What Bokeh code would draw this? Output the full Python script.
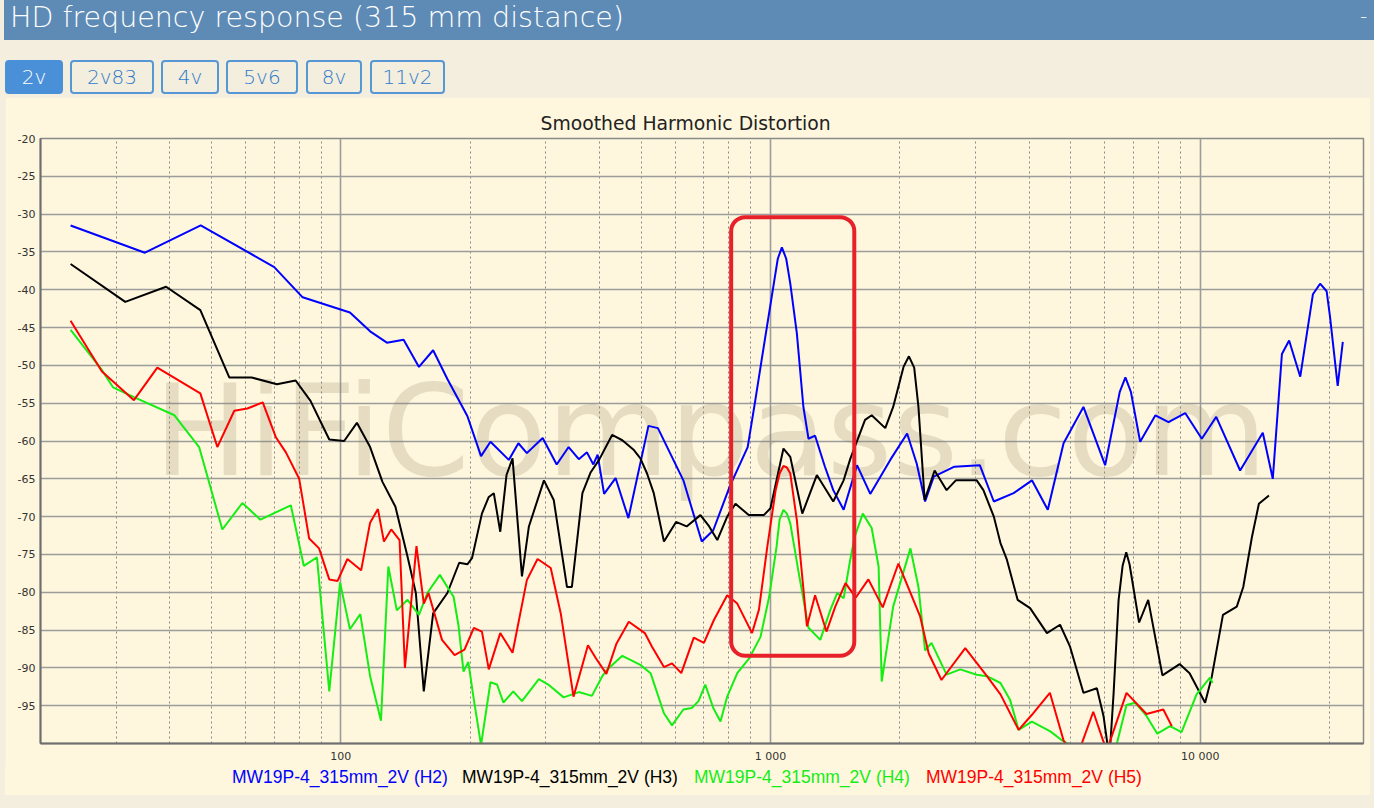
from bokeh.plotting import figure
from bokeh.models import Range1d, FixedTicker, BoxAnnotation, Label, Div
from bokeh.layouts import column
from bokeh.embed import file_html
from bokeh.resources import INLINE

# ---------------- data ----------------
h2_f = [23.5, 35, 47.2, 70, 81.5, 105, 117, 128, 140, 152, 164, 177, 197, 212, 223, 246, 259, 271, 295,
        318, 339, 358, 374, 387, 396, 410, 436, 467, 520, 547, 627, 692, 736, 804, 885, 922, 953, 1018, 1040,
        1063, 1088, 1112, 1152, 1193, 1226, 1270, 1339, 1400, 1480, 1590, 1707, 1900, 2080, 2190, 2290, 2400,
        2680, 3070, 3310, 3680, 4060, 4420, 4810, 5350, 6010, 6500, 6700, 6900, 7250, 7870, 8440, 9230,
        10090, 10900, 12390, 13990, 14760, 15500, 16110, 17100, 18300, 19020, 19700, 20060, 20900, 21480]
h2_db = [-31.5, -35.1, -31.5, -37.0, -41.0, -43.0, -45.5, -47.0, -46.6, -50.2, -48.0, -51.8, -56.7, -62.0,
         -60.1, -62.5, -60.3, -61.6, -59.6, -63.1, -60.8, -62.4, -61.5, -63.1, -61.8, -67.0, -64.9, -70.2,
         -58.0, -58.3, -65.2, -73.3, -71.8, -66.0, -60.8, -54.6, -49.4, -39.2, -35.9, -34.4, -35.9, -39.2,
         -45.8, -55.5, -59.7, -59.3, -63.4, -66.5, -69.1, -63.2, -67.0, -62.5, -59.0, -63.0, -68.0, -64.7,
         -63.4, -63.2, -68.0, -66.9, -65.2, -69.1, -60.3, -55.5, -63.2, -53.5, -51.6, -53.5, -60.1, -56.6,
         -57.5, -56.3, -59.7, -56.8, -63.9, -58.9, -65.0, -48.5, -46.7, -51.5, -40.6, -39.2, -40.2, -43.6,
         -52.7, -46.9]

h3_f = [23.5, 31.5, 39.2, 47.1, 55, 62, 71, 78.5, 85, 94, 101.8, 109, 117, 125, 134, 143, 149.5, 156, 164,
        177, 188.6, 197, 202, 213, 221, 227, 235, 243, 251, 264, 274, 297, 313, 336, 345, 365, 381, 399,
        428, 452, 481, 498, 516, 535, 565, 603, 638, 687, 720, 752, 793, 829, 890, 965, 1000, 1072, 1112,
        1186, 1282, 1400, 1480, 1535, 1660, 1720, 1850, 1930, 2040, 2100, 2160, 2210, 2285, 2410, 2570,
        2700, 3020, 3130, 3310, 3430, 3550, 3760, 4020, 4400, 4720, 4980, 5350, 5750, 5960, 6150, 6290,
        6460, 6600, 6730, 6850, 7210, 7570, 8170, 8960, 9450, 10270, 10650, 11300, 12170, 12600, 13200,
        13700, 14460]
h3_db = [-36.6, -41.6, -39.6, -42.7, -51.6, -51.6, -52.5, -52.0, -54.7, -59.8, -60.0, -57.6, -60.8, -65.4,
         -68.7, -75.3, -80.1, -93.1, -82.8, -80.1, -76.1, -76.3, -75.5, -69.6, -67.4, -66.9, -72.0, -64.5,
         -62.3, -77.9, -71.3, -65.2, -67.8, -79.3, -79.3, -66.9, -64.2, -62.5, -59.2, -59.9, -61.2, -62.3,
         -64.3, -66.9, -73.3, -70.7, -71.3, -69.8, -71.3, -73.1, -70.0, -68.3, -69.8, -69.8, -68.9, -61.0,
         -62.1, -69.6, -64.5, -68.0, -65.2, -62.3, -57.2, -56.6, -58.3, -55.5, -50.2, -48.8, -50.3, -55.5,
         -67.8, -63.9, -66.5, -65.2, -65.2, -66.5, -70.0, -73.5, -75.7, -81.0, -82.1, -85.4, -84.3, -87.2,
         -93.3, -92.7, -96.4, -102.0, -93.3, -81.0, -76.5, -74.7, -76.3, -84.0, -81.0, -91.0, -89.5, -90.7,
         -94.6, -91.1, -83.0, -81.9, -79.3, -72.7, -68.3, -67.2]

h4_f = [23.5, 27.7, 29.5, 33, 41, 46.8, 53, 59, 65, 76.5, 82, 88, 94, 99.6, 105, 111, 117, 124, 129, 135,
        143, 152, 159, 170, 177, 183, 188, 193, 198, 204, 212, 223, 231, 239, 252, 264, 289, 304, 330, 358,
        384, 406, 417, 452, 498, 526, 565, 590, 627, 656, 680, 705, 736, 765, 793, 837, 893, 948, 993,
        1033, 1050, 1072, 1092, 1112, 1164, 1226, 1306, 1379, 1430, 1480, 1530, 1570, 1640, 1720, 1785,
        1815, 1930, 2117, 2210, 2290, 2370, 2570, 2765, 3020, 3190, 3430, 3610, 3780, 4060, 4480, 4800,
        5300, 6000, 6400, 6740, 7050, 7470, 7950, 8510, 9050, 9810, 10540, 10690]
h4_db = [-45.3, -50.5, -52.9, -54.2, -56.6, -60.8, -71.7, -68.2, -70.4, -68.5, -76.5, -75.4, -93.1, -78.7,
         -84.9, -82.9, -91.1, -97.0, -76.6, -82.4, -81.0, -83.0, -80.1, -77.7, -79.3, -80.6, -84.5, -90.5,
         -89.2, -94.2, -100.2, -91.9, -92.2, -94.6, -93.1, -94.4, -91.5, -92.2, -93.9, -93.2, -93.7, -91.1,
         -90.2, -88.4, -89.6, -90.7, -96.0, -97.6, -95.5, -95.3, -94.4, -92.2, -95.3, -97.1, -93.8, -90.7,
         -88.7, -85.9, -80.6, -74.0, -70.4, -69.1, -69.6, -70.9, -77.5, -84.7, -86.3, -82.3, -80.1, -80.8,
         -76.0, -72.7, -69.6, -71.5, -76.6, -91.8, -81.9, -74.2, -79.3, -87.7, -86.7, -90.9, -90.2, -90.9,
         -91.1, -92.0, -94.2, -98.2, -97.1, -98.4, -99.7, -101.0, -101.0, -100.0, -94.9, -94.6, -96.2,
         -98.7, -97.7, -98.5, -93.5, -91.3, -92.0]

h5_f = [23.5, 27.8, 33, 37.4, 47.1, 51.6, 56.5, 60.6, 65.8, 70.6, 74.5, 80, 84.4, 89, 94, 98.3, 103.6,
        111.5, 117, 122, 126, 131, 137, 141, 150, 156, 160, 172, 184, 194, 204, 213, 221, 235, 251, 271,
        287, 308, 325, 348, 376, 392, 415, 438, 468, 510, 530, 565, 590, 620, 663, 700, 738, 793, 837, 906,
        940, 983, 1028, 1050, 1072, 1092, 1112, 1152, 1216, 1270, 1350, 1415, 1495, 1580, 1690, 1825, 1985,
        2230, 2335, 2500, 2840, 3190, 3430, 3780, 4060, 4470, 4810, 5150, 5640, 6060, 6740, 7500, 8210, 8590]
h5_db = [-44.1, -50.8, -54.6, -50.3, -53.7, -60.8, -56.0, -55.7, -54.9, -59.5, -61.5, -65.0, -72.9, -74.2,
         -78.3, -78.5, -75.6, -77.1, -70.8, -69.0, -73.3, -71.7, -73.1, -90.0, -73.9, -81.5, -80.1, -86.3,
         -88.3, -87.6, -84.7, -85.2, -90.2, -85.4, -88.0, -78.4, -75.6, -76.8, -82.8, -93.8, -87.0, -88.7,
         -90.8, -86.8, -83.9, -85.4, -87.2, -89.9, -89.4, -90.7, -86.0, -86.7, -83.7, -80.4, -81.5, -85.4,
         -82.3, -74.0, -66.5, -64.3, -63.3, -63.5, -64.3, -70.5, -84.5, -80.4, -85.2, -81.9, -78.8, -80.7,
         -78.3, -82.0, -76.2, -83.2, -88.1, -91.6, -87.4, -91.1, -93.5, -98.2, -96.2, -93.3, -99.6, -102.0,
         -95.8, -101.0, -93.3, -96.1, -95.5, -97.7]

series_names = ["MW19P-4_315mm_2V (H2)", "MW19P-4_315mm_2V (H3)",
                "MW19P-4_315mm_2V (H4)", "MW19P-4_315mm_2V (H5)"]
series_colors = ["#0000FF", "#000000", "#14EE14", "#FF0000"]

y_ticks = [-95, -90, -85, -80, -75, -70, -65, -60, -55, -50, -45, -40, -35, -30, -25, -20]
y_labels = {t: f"{t}" for t in y_ticks}
x_major = [100, 1000, 10000]
x_minor = [30, 40, 50, 60, 70, 80, 90, 200, 300, 400, 500, 600, 700, 800, 900,
           2000, 3000, 4000, 5000, 6000, 7000, 8000, 9000, 20000]
x_labels = {100: "100", 1000: "1 000", 10000: "10 000"}

# highlighted region (Hz, dB)
box_f = [810, 1567]
box_db = [-88.4, -30.4]

page_title = "HD frequency response (315 mm distance)"
buttons = ["2v", "2v83", "4v", "5v6", "8v", "11v2"]
chart_title = "Smoothed Harmonic Distortion"
watermark = "HiFiCompass.com"

# ---------------- styling ----------------
PAGE = "#F3EEDD"
PANEL = "#FEF7DD"
HEADER = "#5E8BB6"
BTN = "#4A90D9"
BTN_TXT = "#2F7BCB"
BTN_LINE = "#5797D6"

p = figure(width=1365, height=669, x_axis_type="log",
           x_range=Range1d(20, 24000), y_range=Range1d(-100, -20),
           output_backend="svg", toolbar_location=None,
           min_border_left=35, min_border_right=7, min_border_top=41, min_border_bottom=23,
           background_fill_color=PANEL, border_fill_color=PANEL, title=chart_title,
           margin=(0, 4, 0, 5))

p.title.align = "left"
p.title.offset = 500
p.title.text_font = "DejaVu Sans"
p.title.text_font_size = "18.8px"
p.title.text_font_style = "normal"
p.title.text_color = "#222222"
p.title.standoff = 10

xt = FixedTicker(ticks=x_major, minor_ticks=x_minor)
yt = FixedTicker(ticks=y_ticks)
p.xaxis.ticker = xt
p.yaxis.ticker = yt
p.xgrid.ticker = xt
p.ygrid.ticker = yt
p.xaxis.major_label_overrides = x_labels
p.yaxis.major_label_overrides = y_labels

for ax in (p.xaxis, p.yaxis):
    ax.major_tick_out = 0
    ax.major_tick_in = 0
    ax.minor_tick_out = 0
    ax.minor_tick_in = 0
    ax.axis_line_color = "#6E6E6E"
    ax.axis_line_width = 2
    ax.major_label_text_font = "DejaVu Sans"
    ax.major_label_text_font_size = "11px"
    ax.major_label_text_color = "#333333"
p.yaxis.major_label_standoff = 5
p.xaxis.major_label_standoff = 6

p.outline_line_color = "#8A8A8A"
p.outline_line_width = 1.5

p.ygrid.grid_line_color = "#9C9C9C"
p.ygrid.grid_line_width = 1.6
p.xgrid.grid_line_color = "#9C9C9C"
p.xgrid.grid_line_width = 1.6
p.xgrid.minor_grid_line_color = "#888888"
p.xgrid.minor_grid_line_width = 1
p.xgrid.minor_grid_line_dash = "2 3"

wm = Label(x=725, y=-58.8, text=watermark, text_align="center", text_baseline="alphabetic",
           text_font="DejaVu Sans", text_font_size="126px", text_color="#8B7F66",
           text_alpha=0.22, level="underlay")
p.add_layout(wm)

for fx, dy, c in zip([h2_f, h3_f, h4_f, h5_f], [h2_db, h3_db, h4_db, h5_db], series_colors):
    p.line(fx, dy, line_color=c, line_width=2)

box = BoxAnnotation(left=box_f[0], right=box_f[1], bottom=box_db[0], top=box_db[1],
                    fill_alpha=0, line_color="#E8202A", line_alpha=1.0, line_width=4,
                    border_radius=14, level="overlay")
p.add_layout(box)

# ---------------- header and buttons ----------------
btn_left = [5, 70, 161, 226, 306, 370]
btn_width = [58, 84, 58, 72, 56, 75]
btn_html = ""
for i, (t, l, w) in enumerate(zip(buttons, btn_left, btn_width)):
    bg = BTN if i == 0 else "transparent"
    fg = "#FFFFFF" if i == 0 else BTN_TXT
    bc = BTN if i == 0 else BTN_LINE
    btn_html += (f'<div style="position:absolute;left:{l}px;top:60px;width:{w}px;height:34px;'
                 f'box-sizing:border-box;border:2px solid {bc};border-radius:4px;background:{bg};'
                 f'color:{fg};font-size:20px;font-weight:200;line-height:30px;text-align:center;">{t}</div>')

top_html = (f'<div style="position:relative;width:1374px;height:97px;background:{PAGE};'
            f'font-family:\'DejaVu Sans\',sans-serif;">'
            f'<div style="position:absolute;left:4px;top:0;width:1370px;height:40px;background:{HEADER};"></div>'
            f'<div style="position:absolute;left:10px;top:1px;width:900px;height:38px;line-height:34px;color:#fff;'
            f'font-size:28.5px;font-weight:200;white-space:nowrap;">{page_title}</div>'
            f'<div style="position:absolute;left:1360px;top:1px;width:12px;height:30px;line-height:30px;'
            f'color:#fff;font-size:20px;font-weight:200;">-</div>'
            f'{btn_html}</div>')
top = Div(text=top_html, width=1374, height=97, margin=0)

leg_left = [227, 457, 689, 921]
leg_html = f'<div style="position:relative;width:1365px;height:29px;background:{PANEL};">'
for name, c, l in zip(series_names, series_colors, leg_left):
    leg_html += (f'<span style="position:absolute;left:{l}px;top:0;line-height:22px;white-space:nowrap;'
                 f'font-family:\'Liberation Sans\',sans-serif;font-size:17.5px;color:{c};">{name}</span>')
leg_html += '</div>'
leg = Div(text=leg_html, width=1365, height=29, margin=(0, 4, 13, 5))

layout = column(top, p, leg, spacing=0, styles={"background-color": PAGE})
open("out.html", "w").write(file_html(layout, INLINE))
